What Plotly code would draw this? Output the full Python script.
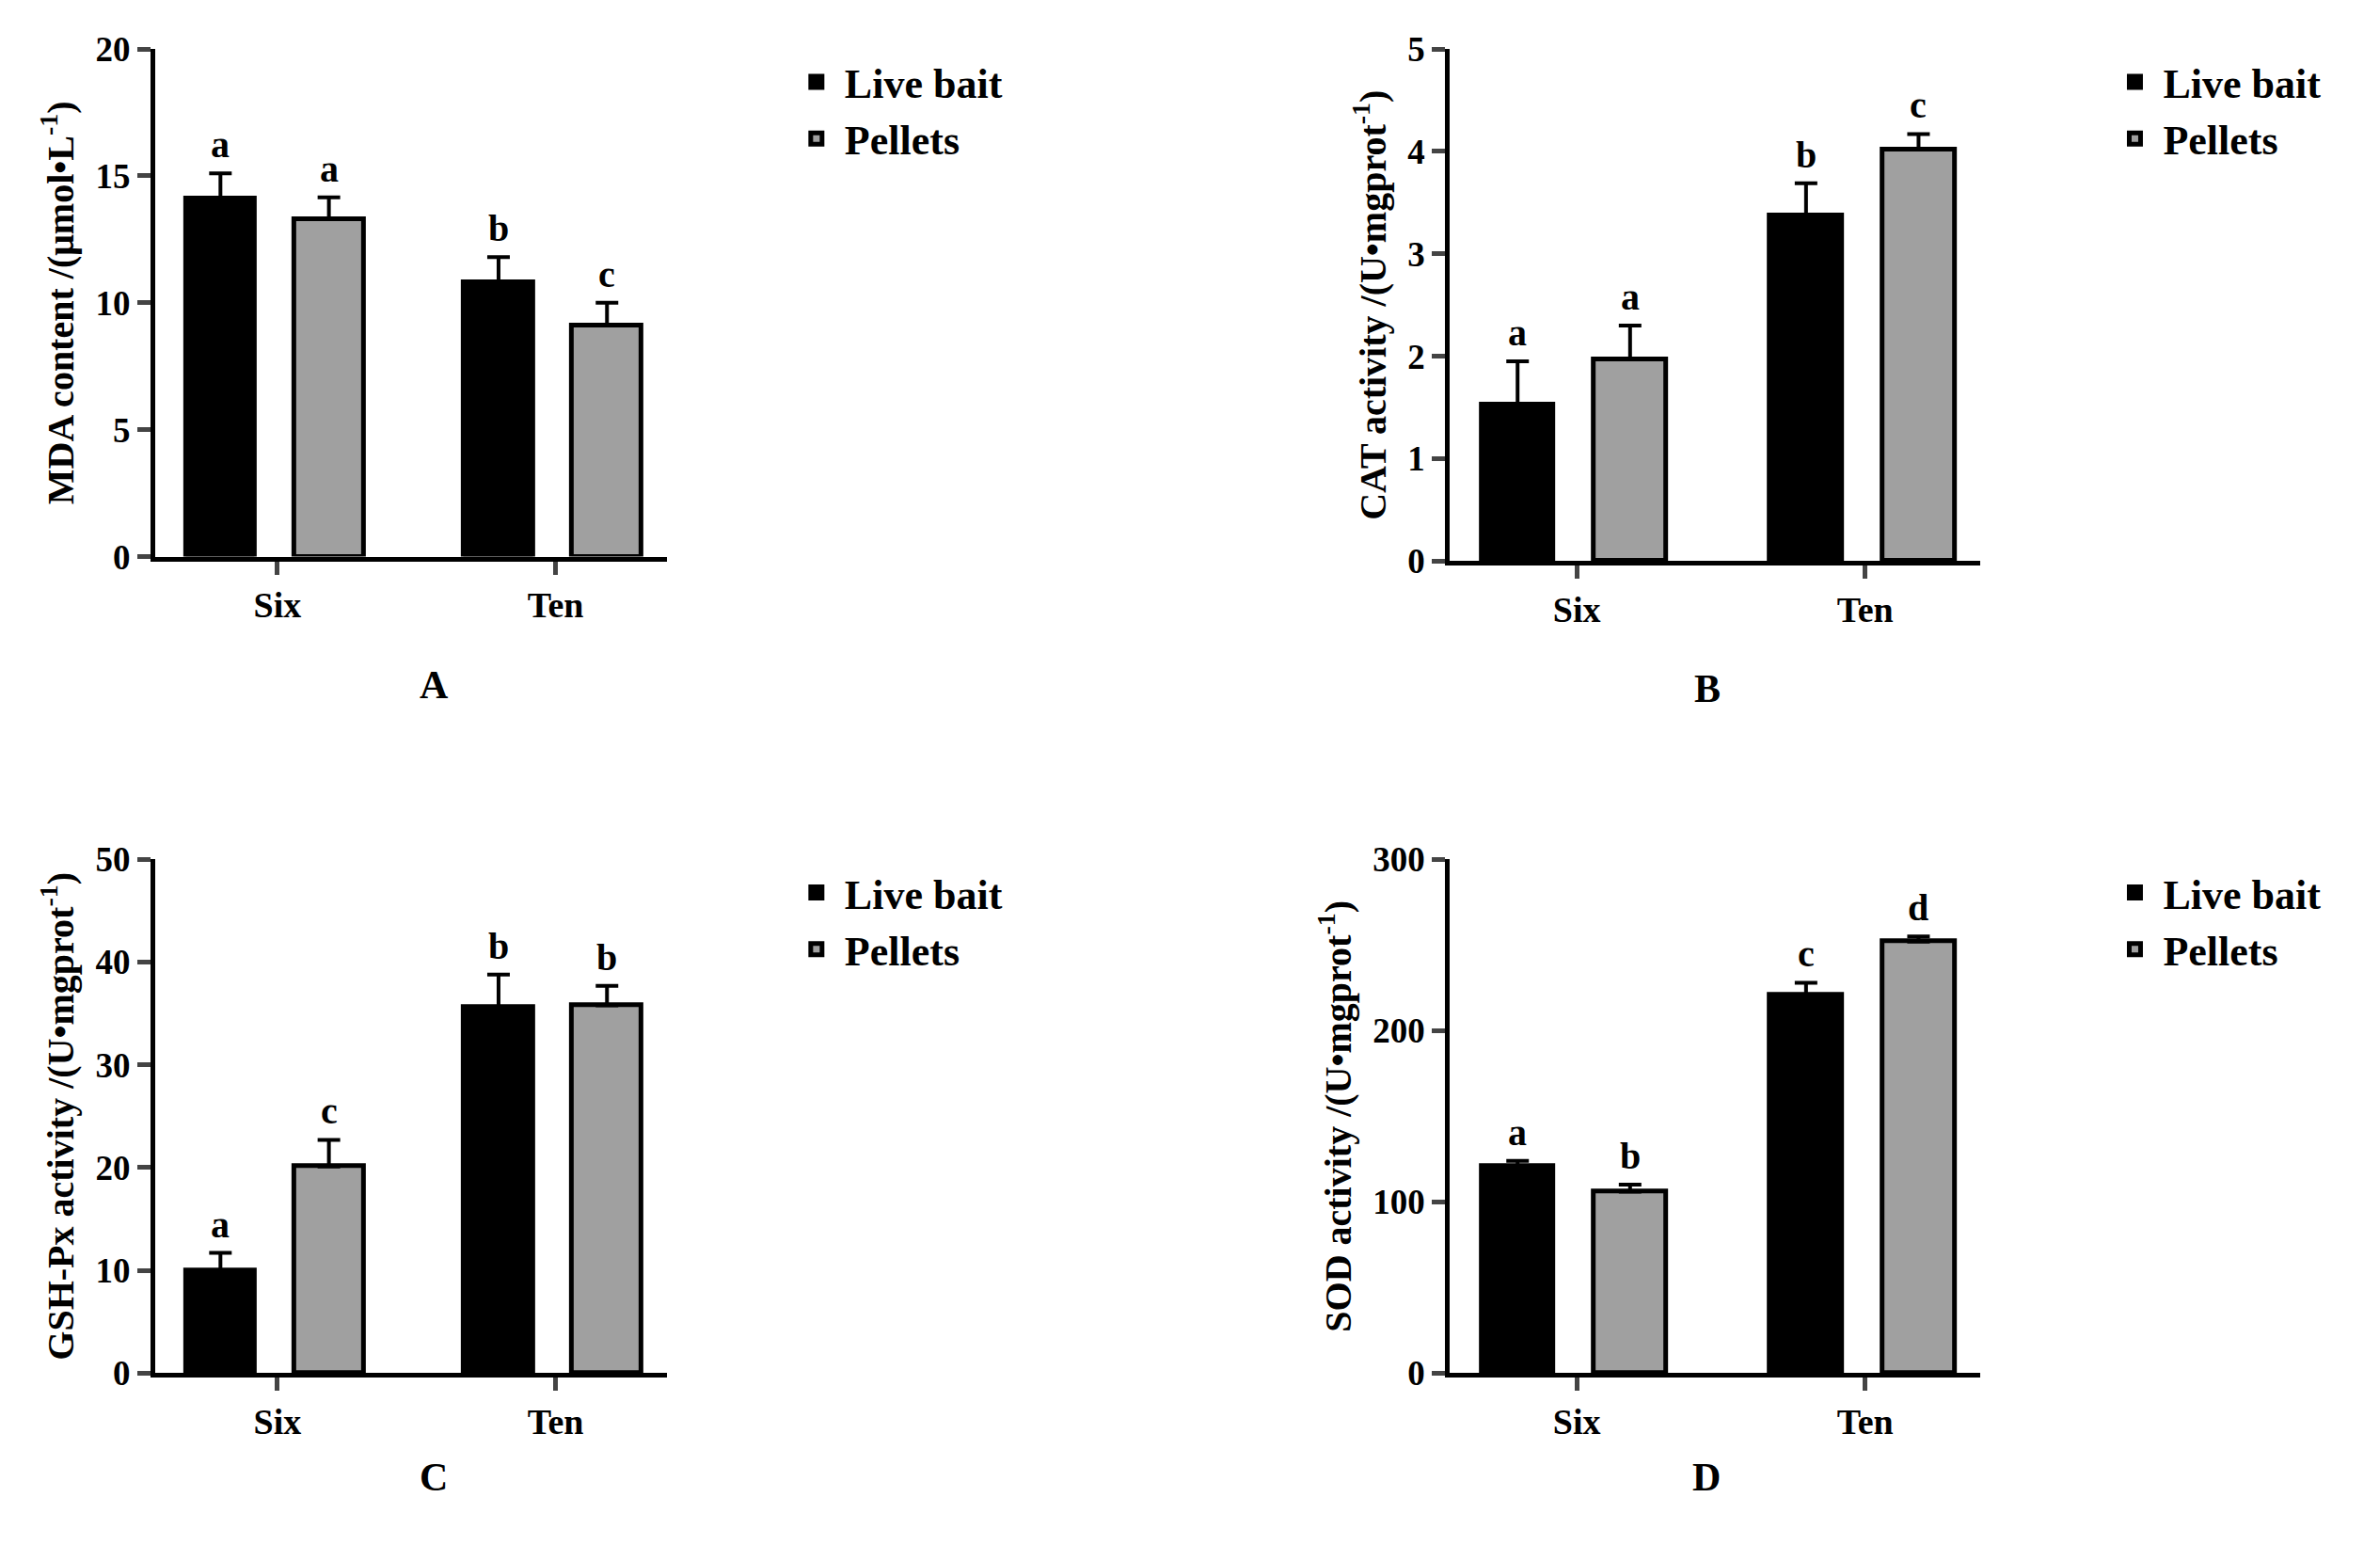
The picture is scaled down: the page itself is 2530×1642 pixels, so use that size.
import plotly.graph_objects as go

groups = ["Six", "Ten"]
series = ["Live bait", "Pellets"]
colors = ["#000000", "#a0a0a0"]

mda = [[14.1, 10.8], [13.3, 9.1]]
mda_err = [[1.0, 1.0], [0.85, 0.9]]
mda_lab = [["a", "b"], ["a", "c"]]

cat = [[1.53, 3.37], [1.97, 4.02]]
cat_err = [[0.42, 0.32], [0.33, 0.15]]
cat_lab = [["a", "b"], ["a", "c"]]

gsh = [[10.0, 35.6], [20.1, 35.8]]
gsh_err = [[1.7, 3.2], [2.6, 1.9]]
gsh_lab = [["a", "b"], ["c", "b"]]

sod = [[121, 221], [106, 252]]
sod_err = [[3, 7], [4, 3]]
sod_lab = [["a", "c"], ["b", "d"]]

panels = [
    dict(v=mda, e=mda_err, l=mda_lab, title="MDA content /(μmol•L<sup>-1</sup>)", rng=[0, 20], dt=5,
         dx=[0.062, 0.277], dy=[0.648, 0.985], name="A", lx=0.328, ly=0.985),
    dict(v=cat, e=cat_err, l=cat_lab, title="CAT activity /(U•mgprot<sup>-1</sup>)", rng=[0, 5], dt=1,
         dx=[0.606, 0.829], dy=[0.645, 0.985], name="B", lx=0.882, ly=0.985),
    dict(v=gsh, e=gsh_err, l=gsh_lab, title="GSH-Px activity /(U•mgprot<sup>-1</sup>)", rng=[0, 50], dt=10,
         dx=[0.062, 0.277], dy=[0.106, 0.447], name="C", lx=0.328, ly=0.447),
    dict(v=sod, e=sod_err, l=sod_lab, title="SOD activity /(U•mgprot<sup>-1</sup>)", rng=[0, 300], dt=100,
         dx=[0.606, 0.829], dy=[0.106, 0.447], name="D", lx=0.882, ly=0.447),
]

FONT = "Liberation Serif"
fig = go.Figure()
offsets = [-0.33, 0.06]
width = 0.25
layout = dict(plot_bgcolor="white", paper_bgcolor="white", width=2530, height=1642,
              margin=dict(l=0, r=0, t=0, b=0), font=dict(family=FONT, color="black"),
              bargap=0, annotations=[])

for i, p in enumerate(panels):
    k = "" if i == 0 else str(i + 1)
    leg = "legend" + k
    for s in range(2):
        fig.add_trace(go.Bar(
            x=[0, 1], y=p["v"][s], name=series[s], offset=offsets[s], width=width,
            marker=dict(color=colors[s], line=dict(color="black", width=5)),
            error_y=dict(type="data", symmetric=False, array=p["e"][s], arrayminus=[0, 0],
                         color="black", thickness=4, width=12),
            xaxis="x" + k, yaxis="y" + k, legend=leg))
        for j in range(2):
            layout["annotations"].append(dict(
                x=j + offsets[s] + width / 2, y=p["v"][s][j] + p["e"][s][j],
                xref="x" + k, yref="y" + k, text="<b>%s</b>" % p["l"][s][j], showarrow=False,
                yanchor="bottom", yshift=6, font=dict(size=40, family=FONT)))
    layout["annotations"].append(dict(
        x=(p["dx"][0] + p["dx"][1]) / 2 + 0.003, y=p["dy"][0] - 0.085, xref="paper", yref="paper",
        text="<b>%s</b>" % p["name"], showarrow=False, font=dict(size=42, family=FONT)))
    layout["xaxis" + k] = dict(domain=p["dx"], anchor="y" + k, range=[-0.44, 1.4],
                               tickvals=[0, 1], ticktext=["<b>%s</b>" % g for g in groups],
                               showline=True, linecolor="black", linewidth=5, ticks="outside",
                               ticklen=14, tickwidth=5, showgrid=False, zeroline=False,
                               tickfont=dict(size=38, family=FONT))
    layout["yaxis" + k] = dict(domain=p["dy"], anchor="x" + k, range=p["rng"],
                               tickvals=list(range(p["rng"][0], p["rng"][1] + 1, p["dt"])),
                               ticktext=["<b>%d</b>" % t for t in range(p["rng"][0], p["rng"][1] + 1, p["dt"])],
                               showline=True, linecolor="black", linewidth=5, ticks="outside",
                               ticklen=14, tickwidth=5, showgrid=False, zeroline=False,
                               tickfont=dict(size=37, family=FONT),
                               title=dict(text="<b>%s</b>" % p["title"], font=dict(size=40, family=FONT),
                                          standoff=12))
    layout[leg] = dict(x=p["lx"], y=p["ly"], xanchor="left", yanchor="top",
                       font=dict(size=44, family=FONT), bgcolor="rgba(0,0,0,0)",
                       tracegroupgap=14, itemwidth=50)

fig.update_layout(**layout)
for tr in fig.data:
    tr.name = "<b>%s</b>" % tr.name
fig.write_html("out.html")
